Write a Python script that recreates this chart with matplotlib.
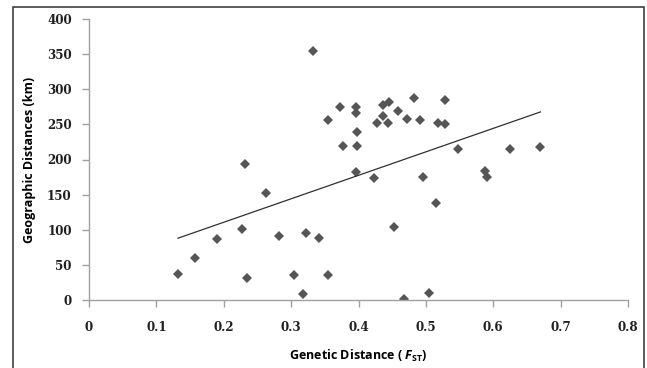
import matplotlib
matplotlib.use("Agg")
import matplotlib.pyplot as plt
import numpy as np
from matplotlib.patches import Rectangle

# Genetic distance (FST) vs geographic distance (km)
fst = [0.132, 0.158, 0.190, 0.227, 0.2315, 0.235, 0.262, 0.282, 0.304, 0.318,
       0.322, 0.332, 0.342, 0.354, 0.354, 0.372, 0.377, 0.396, 0.396, 0.397,
       0.398, 0.398, 0.423, 0.428, 0.437, 0.437, 0.444, 0.446, 0.452, 0.459,
       0.467, 0.472, 0.482, 0.492, 0.496, 0.504, 0.515, 0.518, 0.528, 0.529,
       0.548, 0.588, 0.591, 0.625, 0.670]
geo_km = [37.5, 60, 87, 101.5, 193.5, 32, 153, 91.5, 35.5, 9,
          96, 355, 88, 36, 256, 275, 219, 182, 266, 275,
          239, 219, 173, 252, 278, 262, 252, 282, 103.5, 269,
          1, 257, 287, 256, 175, 10.5, 138.5, 252, 250, 285,
          215, 184, 175.5, 214.5, 218]

x_ticks = [0, 0.1, 0.2, 0.3, 0.4, 0.5, 0.6, 0.7, 0.8]
x_tick_labels = ["0", "0.1", "0.2", "0.3", "0.4", "0.5", "0.6", "0.7", "0.8"]
y_ticks = [0, 50, 100, 150, 200, 250, 300, 350, 400]

plt.rcParams["mathtext.fontset"] = "custom"
plt.rcParams["mathtext.it"] = "Open Sans:italic:bold"
plt.rcParams["mathtext.rm"] = "Open Sans:bold"

fig = plt.figure(figsize=(6.47, 3.68), dpi=100)
ax = fig.add_axes([89 / 647, 68 / 368, 539 / 647, 281 / 368])

# outer chart border (bottom edge falls just outside the image)
fig.patches.append(Rectangle((13 / 647, -0.02), 631 / 647, 368 / 368,
                             transform=fig.transFigure, fill=False,
                             edgecolor="#404040", linewidth=1.2))

ax.plot(fst, geo_km, linestyle="none", marker="D", markersize=5.2,
        color="#565656", markeredgewidth=0)

# linear trendline
slope, intercept = np.polyfit(fst, geo_km, 1)
xs = np.array([min(fst), max(fst)])
ax.plot(xs, slope * xs + intercept, color="#303030", linewidth=0.9)

ax.set_xlim(0, 0.8)
ax.set_ylim(0, 400)
ax.set_xticks(x_ticks)
ax.set_xticklabels(x_tick_labels)
ax.set_yticks(y_ticks)

for side in ["top", "right"]:
    ax.spines[side].set_visible(False)
for side in ["left", "bottom"]:
    ax.spines[side].set_color("#a0a0a0")
    ax.spines[side].set_linewidth(1.0)

ax.tick_params(direction="out", length=5, width=1, color="#a0a0a0")
ax.tick_params(axis="y", pad=7.5)
ax.tick_params(axis="x", pad=10)
for lab in ax.get_xticklabels() + ax.get_yticklabels():
    lab.set_family("DejaVu Serif")
    lab.set_fontweight("bold")
    lab.set_fontsize(8.6)
    lab.set_color("#202020")

ax.set_ylabel("Geographic Distances (km)", family="Open Sans",
              fontweight="bold", fontsize=9, labelpad=8)
ax.set_xlabel(r"Genetic Distance ( $F_{\mathrm{ST}}$)", family="Open Sans",
              fontweight="bold", fontsize=9, labelpad=10)

fig.savefig("out.png", dpi=100)
